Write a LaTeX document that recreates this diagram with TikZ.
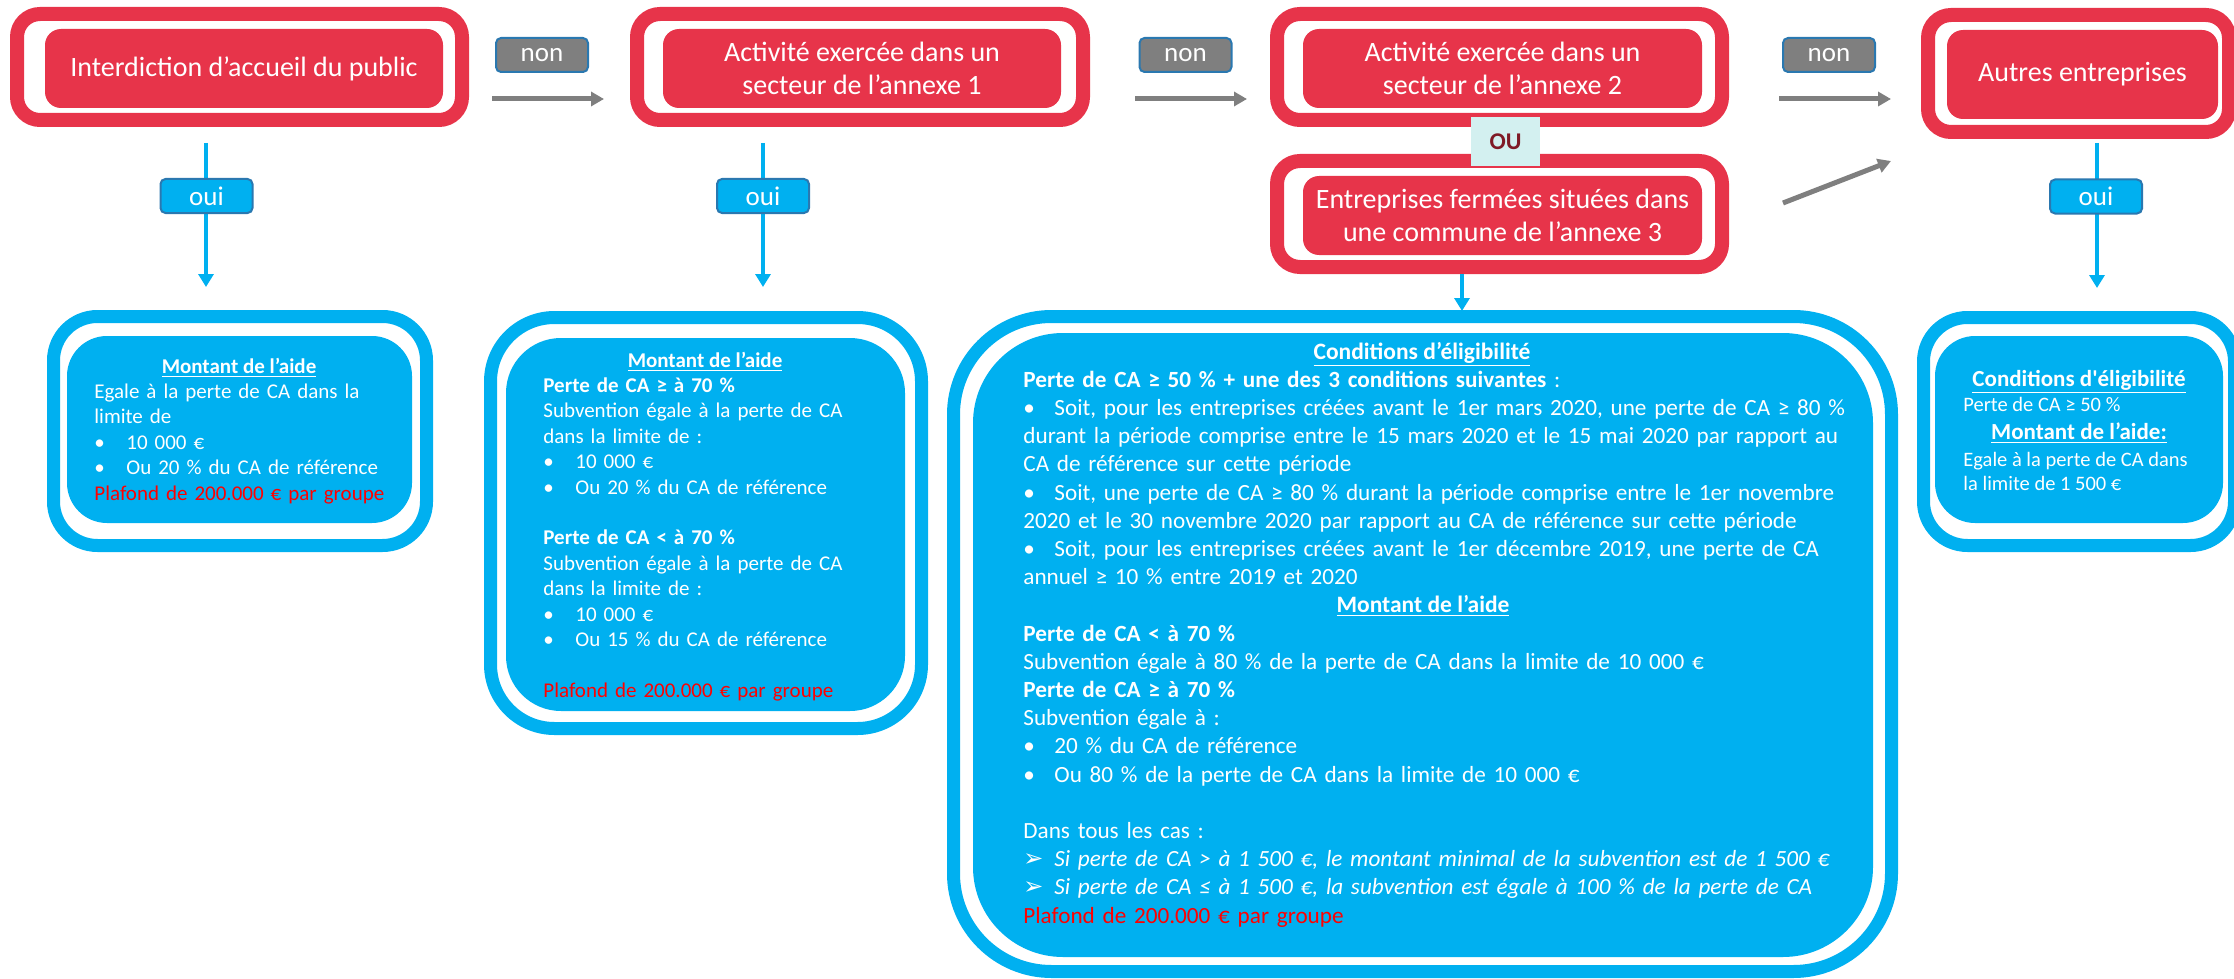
\documentclass[tikz,border=0pt]{standalone}
\usepackage{fontspec}
\setmainfont{Carlito}
\newfontfamily\dvfont{DejaVu Sans}
\usetikzlibrary{arrows.meta}
\definecolor{boxred}{HTML}{E7344A}
\definecolor{boxcyan}{HTML}{00B0F0}
\definecolor{arrgray}{HTML}{7F7F7F}
\definecolor{lblborder}{HTML}{2A78B0}
\definecolor{oufill}{HTML}{D3F0F0}
\definecolor{outext}{HTML}{7F1A26}
\definecolor{plafred}{HTML}{FF0000}
\newcommand\bitem{\makebox[16pt][l]{•}}
\newcommand\bitemF{\makebox[15.5pt][l]{•}}
\newcommand\aitem{\makebox[15.5pt][l]{\dvfont\fontsize{12pt}{12pt}\selectfont ➢}}
\tikzset{
  redring/.style={draw=boxred, line width=7pt, rounded corners=11.5pt},
  redfill/.style={fill=boxred, rounded corners=8pt, inner sep=0pt, text=white, align=center, font=\fontsize{14pt}{16.5pt}\selectfont},
  cyanring/.style={draw=boxcyan, line width=6.5pt},
  cyanfill/.style={fill=boxcyan, inner sep=0pt},
  lbl/.style={draw=lblborder, line width=1pt, rounded corners=2.5pt, minimum width=46pt, minimum height=17pt, inner sep=0pt, text=white, font=\fontsize{13.5pt}{16pt}\selectfont},
  nonlbl/.style={lbl, fill=arrgray},
  ouilbl/.style={lbl, fill=boxcyan},
  grayarrow/.style={draw=arrgray, line width=2.5pt, -{Triangle[length=6.5pt,width=7pt]}},
  bluearrow/.style={draw=boxcyan, line width=2pt, -{Triangle[length=6.5pt,width=7.5pt]}},
  bodytxt/.style={text=white, anchor=base west, inner sep=0pt, align=left},
  titletxt/.style={text=white, anchor=base, inner sep=0pt},
}
\begin{document}
\begin{tikzpicture}[x=0.5pt,y=-0.5pt]
\useasboundingbox (0,0) rectangle (2234,979);
% ---------- red rings ----------
\draw[redring] (17,14) rectangle (462,120);
\draw[redring] (637,14) rectangle (1083,120);
\draw[redring] (1277,14) rectangle (1722,120);
\draw[redring] (1277,161) rectangle (1722,267);
\draw[redring] (1928,15) rectangle (2229,132);
% ---------- red fills ----------
\node[redfill, minimum width=199pt, minimum height=39.5pt] (A) at (244,68.5) {Interdiction d’accueil du public};
\node[redfill, minimum width=199pt, minimum height=39.5pt] (B) at (862,68.5) {Activité exercée dans un\\secteur de l’annexe 1};
\node[redfill, minimum width=199.5pt, minimum height=39.5pt] (C) at (1502.5,68.5) {Activité exercée dans un\\secteur de l’annexe 2};
\node[redfill, minimum width=199.5pt, minimum height=39.5pt] (D) at (1502.5,215.5) {Entreprises fermées situées dans\\une commune de l’annexe 3};
\node[redfill, minimum width=135.5pt, minimum height=44.5pt] (E) at (2082.5,74.5) {Autres entreprises};
% ---------- cyan rings ----------
\draw[cyanring, rounded corners=22pt] (53.5,316.5) rectangle (426.5,545.5);
\draw[cyanring, rounded corners=32pt] (490.5,317.5) rectangle (921.5,728.5);
\draw[cyanring, rounded corners=49pt] (953.5,316.5) rectangle (1891.5,971.5);
\draw[cyanring, rounded corners=22pt] (1923.5,317.5) rectangle (2234.5,545.5);
% ---------- cyan fills ----------
\node[cyanfill, rounded corners=20pt, minimum width=172.5pt, minimum height=93.5pt] (A2) at (239.5,429.5) {};
\node[cyanfill, rounded corners=27.5pt, minimum width=199.5pt, minimum height=186.5pt] (B2) at (705.5,524.5) {};
\node[cyanfill, rounded corners=45pt, minimum width=450pt, minimum height=312pt] (F) at (1423,645) {};
\node[cyanfill, rounded corners=20pt, minimum width=144pt, minimum height=93.5pt] (E2) at (2079,429.5) {};
% ---------- box A2 text ----------
\node[titletxt, font=\fontsize{10.5pt}{12.7pt}\selectfont] (a2t) at (239,373) {\underline{\textbf{Montant de l’aide}}};
\node[bodytxt, text width=170pt, font=\fontsize{10.5pt}{12.7pt}\selectfont] (a2b) at (94,398.4) {Egale à la perte de CA dans la\\
limite de\\
\bitem 10 000 €\\
\bitem Ou 20 \% du CA de référence\\
\textcolor{plafred}{Plafond de 200.000 € par groupe}};
% ---------- box B2 text ----------
\node[titletxt, font=\fontsize{10.5pt}{12.7pt}\selectfont] (b2t) at (705,367) {\underline{\textbf{Montant de l’aide}}};
\node[bodytxt, text width=190pt, font=\fontsize{10.5pt}{12.7pt}\selectfont] (b2b) at (543,392.4) {\textbf{Perte de CA ≥ à 70 \%}\\
Subvention égale à la perte de CA\\
dans la limite de :\\
\bitem 10 000 €\\
\bitem Ou 20 \% du CA de référence\\[12.7pt]
\textbf{Perte de CA < à 70 \%}\\
Subvention égale à la perte de CA\\
dans la limite de :\\
\bitem 10 000 €\\
\bitem Ou 15 \% du CA de référence\\[12.7pt]
\textcolor{plafred}{Plafond de 200.000 € par groupe}};
% ---------- box F text ----------
\node[titletxt, font=\fontsize{11.75pt}{14.1pt}\selectfont] (ft1) at (1422,359) {\underline{\textbf{Conditions d’éligibilité}}};
\node[bodytxt, text width=450pt, font=\fontsize{11.6pt}{14.1pt}\selectfont] (fb1) at (1023,387.2) {\textbf{Perte de CA ≥ 50 \% + une des 3 conditions suivantes} :\\
\bitemF Soit, pour les entreprises créées avant le 1er mars 2020, une perte de CA ≥ 80 \%\\
durant la période comprise entre le 15 mars 2020 et le 15 mai 2020 par rapport au\\
CA de référence sur cette période\\
\bitemF Soit, une perte de CA ≥ 80 \% durant la période comprise entre le 1er novembre\\
2020 et le 30 novembre 2020 par rapport au CA de référence sur cette période\\
\bitemF Soit, pour les entreprises créées avant le 1er décembre 2019, une perte de CA\\
annuel ≥ 10 \% entre 2019 et 2020};
\node[titletxt, font=\fontsize{11.75pt}{14.1pt}\selectfont] (ft2) at (1423,612.8) {\underline{\textbf{Montant de l’aide}}};
\node[bodytxt, text width=450pt, font=\fontsize{11.6pt}{14.1pt}\selectfont] (fb2) at (1023,641) {\textbf{Perte de CA < à 70 \%}\\
Subvention égale à 80 \% de la perte de CA dans la limite de 10 000 €\\
\textbf{Perte de CA ≥ à 70 \%}\\
Subvention égale à :\\
\bitemF 20 \% du CA de référence\\
\bitemF Ou 80 \% de la perte de CA dans la limite de 10 000 €\\[14.1pt]
Dans tous les cas :\\
\aitem\textit{Si perte de CA > à 1 500 €, le montant minimal de la subvention est de 1 500 €}\\
\aitem\textit{Si perte de CA ≤ à 1 500 €, la subvention est égale à 100 \% de la perte de CA}\\
\textcolor{plafred}{Plafond de 200.000 € par groupe}};
% ---------- box E2 text ----------
\node[titletxt, font=\fontsize{11.5pt}{13.5pt}\selectfont] (e2t1) at (2079,386) {\underline{\textbf{Conditions d\textquotesingle éligibilité}}};
\node[bodytxt, font=\fontsize{10.25pt}{12.3pt}\selectfont] (e2b1) at (1963,411) {Perte de CA ≥ 50 \%};
\node[titletxt, font=\fontsize{11.5pt}{13.5pt}\selectfont] (e2t2) at (2079,439) {\underline{\textbf{Montant de l’aide:}}};
\node[bodytxt, font=\fontsize{10.25pt}{12.3pt}\selectfont] (e2b2) at (1963,466) {Egale à la perte de CA dans};
\node[bodytxt, font=\fontsize{10.25pt}{12.3pt}\selectfont] (e2b3) at (1963,490) {la limite de 1 500 €};
% ---------- connectors ----------
\coordinate (g1s) at (492,99);   \coordinate (g1e) at (604,99);
\coordinate (g2s) at (1135,99);  \coordinate (g2e) at (1247,99);
\coordinate (g3s) at (1779,99);  \coordinate (g3e) at (1891,99);
\coordinate (g4s) at (1783,203); \coordinate (g4e) at (1891,161);
\draw[grayarrow] (g1s) -- (g1e);
\draw[grayarrow] (g2s) -- (g2e);
\draw[grayarrow] (g3s) -- (g3e);
\draw[grayarrow] (g4s) -- (g4e);
\coordinate (b1s) at (206,143);  \coordinate (b1e) at (206,287);
\coordinate (b2s) at (763,143);  \coordinate (b2e) at (763,287);
\coordinate (b3s) at (1462,274); \coordinate (b3e) at (1462,311);
\coordinate (b4s) at (2097,143); \coordinate (b4e) at (2097,288);
\draw[bluearrow] (b1s) -- (b1e);
\draw[bluearrow] (b2s) -- (b2e);
\draw[bluearrow] (b3s) -- (b3e);
\draw[bluearrow] (b4s) -- (b4e);
% ---------- labels ----------
\node[nonlbl] (n1) at (542,55) {non};
\node[nonlbl] (n2) at (1185.5,55) {non};
\node[nonlbl] (n3) at (1829,55) {non};
\node[ouilbl] (o1) at (206.5,196) {oui};
\node[ouilbl] (o2) at (763,196) {oui};
\node[ouilbl] (o3) at (2096,196.5) {oui};
\node[fill=oufill, text=outext, minimum width=34.5pt, minimum height=24.5pt, inner sep=0pt, font=\fontsize{12pt}{14pt}\selectfont\bfseries] (ou) at (1505.5,141.5) {OU};
\end{tikzpicture}
\end{document}
